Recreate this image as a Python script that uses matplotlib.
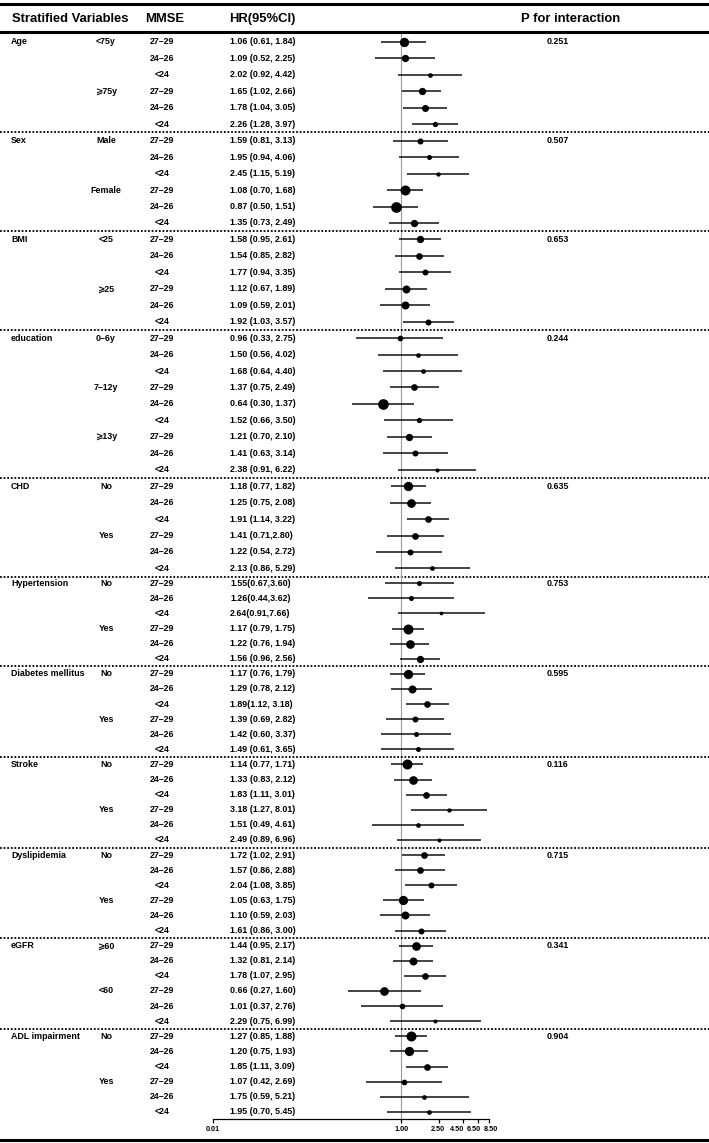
import re

import matplotlib

matplotlib.use("Agg")
import matplotlib.pyplot as plt
import matplotlib.transforms as mtransforms
from matplotlib.lines import Line2D
from matplotlib.ticker import FixedLocator, FixedFormatter, NullLocator

plt.rcParams["font.family"] = ["Liberation Sans", "DejaVu Sans"]

# ---- data ----
variables = ["Age", "Sex", "BMI", "education", "CHD", "Hypertension",
             "Diabetes mellitus", "Stroke", "Dyslipidemia", "eGFR", "ADL impairment"]
subgroups = [
    ["<75y", "⩾75y"],
    ["Male", "Female"],
    ["<25", "⩾25"],
    ["0–6y", "7–12y", "⩾13y"],
    ["No", "Yes"],
    ["No", "Yes"],
    ["No", "Yes"],
    ["No", "Yes"],
    ["No", "Yes"],
    ["⩾60", "<60"],
    ["No", "Yes"],
]
mmse_levels = ["27–29", "24–26", "<24"]
p_interaction = ["0.251", "0.507", "0.653", "0.244", "0.635", "0.753",
                 "0.595", "0.116", "0.715", "0.341", "0.904"]

hr_labels = [
    # Age
    "1.06 (0.61, 1.84)", "1.09 (0.52, 2.25)", "2.02 (0.92, 4.42)",
    "1.65 (1.02, 2.66)", "1.78 (1.04, 3.05)", "2.26 (1.28, 3.97)",
    # Sex
    "1.59 (0.81, 3.13)", "1.95 (0.94, 4.06)", "2.45 (1.15, 5.19)",
    "1.08 (0.70, 1.68)", "0.87 (0.50, 1.51)", "1.35 (0.73, 2.49)",
    # BMI
    "1.58 (0.95, 2.61)", "1.54 (0.85, 2.82)", "1.77 (0.94, 3.35)",
    "1.12 (0.67, 1.89)", "1.09 (0.59, 2.01)", "1.92 (1.03, 3.57)",
    # education
    "0.96 (0.33, 2.75)", "1.50 (0.56, 4.02)", "1.68 (0.64, 4.40)",
    "1.37 (0.75, 2.49)", "0.64 (0.30, 1.37)", "1.52 (0.66, 3.50)",
    "1.21 (0.70, 2.10)", "1.41 (0.63, 3.14)", "2.38 (0.91, 6.22)",
    # CHD
    "1.18 (0.77, 1.82)", "1.25 (0.75, 2.08)", "1.91 (1.14, 3.22)",
    "1.41 (0.71,2.80)", "1.22 (0.54, 2.72)", "2.13 (0.86, 5.29)",
    # Hypertension
    "1.55(0.67,3.60)", "1.26(0.44,3.62)", "2.64(0.91,7.66)",
    "1.17 (0.79, 1.75)", "1.22 (0.76, 1.94)", "1.56 (0.96, 2.56)",
    # Diabetes mellitus
    "1.17 (0.76, 1.79)", "1.29 (0.78, 2.12)", "1.89(1.12, 3.18)",
    "1.39 (0.69, 2.82)", "1.42 (0.60, 3.37)", "1.49 (0.61, 3.65)",
    # Stroke
    "1.14 (0.77, 1.71)", "1.33 (0.83, 2.12)", "1.83 (1.11, 3.01)",
    "3.18 (1.27, 8.01)", "1.51 (0.49, 4.61)", "2.49 (0.89, 6.96)",
    # Dyslipidemia
    "1.72 (1.02, 2.91)", "1.57 (0.86, 2.88)", "2.04 (1.08, 3.85)",
    "1.05 (0.63, 1.75)", "1.10 (0.59, 2.03)", "1.61 (0.86, 3.00)",
    # eGFR
    "1.44 (0.95, 2.17)", "1.32 (0.81, 2.14)", "1.78 (1.07, 2.95)",
    "0.66 (0.27, 1.60)", "1.01 (0.37, 2.76)", "2.29 (0.75, 6.99)",
    # ADL impairment
    "1.27 (0.85, 1.88)", "1.20 (0.75, 1.93)", "1.85 (1.11, 3.09)",
    "1.07 (0.42, 2.69)", "1.75 (0.59, 5.21)", "1.95 (0.70, 5.45)",
]

# relative weight of each estimate
weights = [
    9.3, 7.3, 4.7, 7.3, 7.0, 5.3,
    6.0, 5.0, 4.3, 10.0, 10.7, 7.3,
    7.3, 6.7, 6.0, 8.0, 8.0, 6.0,
    5.7, 4.7, 4.7, 6.7, 10.7, 5.3, 7.3, 6.0, 4.0,
    9.3, 8.7, 6.7, 6.7, 6.0, 4.7,
    5.0, 5.0, 3.7, 10.0, 8.7, 7.3,
    9.3, 8.0, 6.7, 6.0, 5.0, 5.0,
    10.0, 8.7, 6.7, 4.3, 4.7, 4.0,
    6.7, 6.7, 6.0, 9.3, 8.0, 6.0,
    8.7, 8.0, 6.7, 8.7, 5.7, 4.0,
    10.0, 9.3, 6.7, 5.7, 4.7, 4.7,
]

tick_values = [0.01, 1.0, 2.5, 4.5, 6.5, 8.5]
tick_labels = ["0.01", "1.00", "2.50", "4.50", "6.50", "8.50"]

# parse HR and CI from the printed strings
hr, lo, hi = [], [], []
for s in hr_labels:
    a, b, c = [float(v) for v in re.findall(r"\d+\.\d+", s)]
    hr.append(a)
    lo.append(b)
    hi.append(c)

# ---- layout (pixels of the 709x1143 canvas) ----
W, H = 709, 1143
SPLIT_ROW = 33  # the lower half of the table is set a little tighter


def px_box(x0, x1, ytop, ybot):
    return [x0 / W, 1 - ybot / H, (x1 - x0) / W, (ybot - ytop) / H]


fig = plt.figure(figsize=(W / 100, H / 100), dpi=100)
ax_top = fig.add_axes(px_box(213, 489, 33, 576))
ax_bot = fig.add_axes(px_box(213, 489, 576, 1119.3))

# row index -> pixel: top part 42 + 16.45*r, bottom part 583.3 + 15.1*(r-33)
ax_top.set_ylim((576 - 42) / 16.45, (33 - 42) / 16.45)
ax_bot.set_ylim(SPLIT_ROW + (1119.3 - 583.3) / 15.1, SPLIT_ROW + (576 - 583.3) / 15.1)

for ax in (ax_top, ax_bot):
    ax.set_xscale("log")
    ax.set_xlim(0.01, 8.5)
    ax.patch.set_alpha(0)
    for sp in ("top", "left", "right", "bottom"):
        ax.spines[sp].set_visible(False)
    ax.set_yticks([])
    ax.axvline(1.0, color="#9a9a9a", lw=0.8, zorder=1)

ax_top.set_xticks([])
ax_top.xaxis.set_minor_locator(NullLocator())
ax_bot.spines["bottom"].set_visible(True)
ax_bot.spines["bottom"].set_linewidth(0.9)
ax_bot.xaxis.set_major_locator(FixedLocator(tick_values))
ax_bot.xaxis.set_major_formatter(FixedFormatter(tick_labels))
ax_bot.xaxis.set_minor_locator(NullLocator())
ax_bot.tick_params(axis="x", length=3, width=0.9, pad=1.5, labelsize=5.2)

# the crowded labels at the right end sit a little apart, as in the original
label_shift_px = [0, 0, -1, -5.5, -4, 1.5]
for tick, dx in zip(ax_bot.xaxis.get_major_ticks(), label_shift_px):
    tick.label1.set_fontweight("bold")
    tick.label1.set_transform(tick.label1.get_transform() +
                              mtransforms.ScaledTranslation(dx / 100, 0, fig.dpi_scale_trans))

BODY = 6.4
rows_done = 0
for gi, var in enumerate(variables):
    n_rows = len(subgroups[gi]) * len(mmse_levels)
    first = rows_done
    for k in range(n_rows):
        r = first + k
        ax = ax_top if r < SPLIT_ROW else ax_bot
        tr = mtransforms.blended_transform_factory(fig.transFigure, ax.transData)
        if k == 0:
            ax.text(11 / W, r, var, transform=tr, ha="left", va="center",
                    fontsize=BODY, fontweight="bold")
            ax.text(547 / W, r, p_interaction[gi], transform=tr, ha="left",
                    va="center", fontsize=BODY, fontweight="bold")
        if k % len(mmse_levels) == 0:
            ax.text(106 / W, r, subgroups[gi][k // len(mmse_levels)], transform=tr,
                    ha="center", va="center", fontsize=BODY, fontweight="bold")
        ax.text(162 / W, r, mmse_levels[k % len(mmse_levels)], transform=tr,
                ha="center", va="center", fontsize=BODY, fontweight="bold")
        ax.text(230 / W, r, hr_labels[r], transform=tr, ha="left", va="center",
                fontsize=BODY, fontweight="bold")

        ax.hlines(r, lo[r], hi[r], color="#111111", lw=1.1, zorder=2)
        ax.scatter([hr[r]], [r], s=(weights[r] * 0.72) ** 2, color="black",
                   zorder=3, linewidths=0)
    rows_done += n_rows
    # dotted separator under each group except the last
    if gi < len(variables) - 1:
        r_sep = rows_done - 0.5
        ax = ax_top if r_sep < SPLIT_ROW else ax_bot
        tr = mtransforms.blended_transform_factory(fig.transFigure, ax.transData)
        ax.plot([0, 1], [r_sep, r_sep], transform=tr, clip_on=False,
                color="black", lw=1.3, ls=(0, (1, 1)))

# header
HEAD = 9.4
fig.text(12 / W, 1 - 19 / H, "Stratified Variables", ha="left", va="center",
         fontsize=HEAD, fontweight="bold")
fig.text(165 / W, 1 - 19 / H, "MMSE", ha="center", va="center",
         fontsize=HEAD, fontweight="bold")
fig.text(229 / W, 1 - 19 / H, "HR(95%CI)", ha="left", va="center",
         fontsize=HEAD, fontweight="bold")
fig.text(571 / W, 1 - 19 / H, "P for interaction", ha="center", va="center",
         fontsize=HEAD, fontweight="bold")

for y in (3.5, 31.5, 1139.5):
    fig.add_artist(Line2D([0, 1], [1 - y / H, 1 - y / H], color="black", lw=2.2,
                          transform=fig.transFigure))

fig.savefig("out.png", dpi=100)
